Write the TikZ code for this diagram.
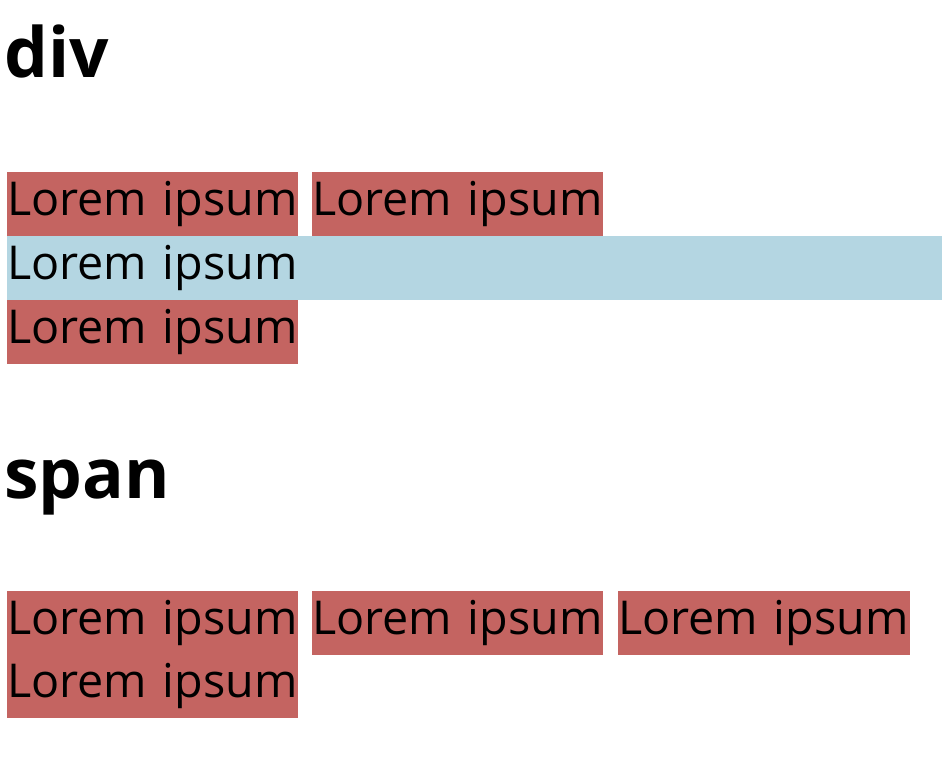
\documentclass[tikz,border=0pt]{standalone}
\usepackage{fontspec}
\setmainfont{Open Sans}
\definecolor{boxred}{RGB}{196,100,97}
\definecolor{boxblue}{RGB}{180,214,226}
\begin{document}
\begin{tikzpicture}[x=0.75pt,y=-0.75pt,
  cell/.style={inner xsep=0pt, inner ysep=0pt, anchor=north west, minimum height=48pt,
    text height=25pt, text depth=8.5pt, align=left, font=\fontsize{35pt}{40pt}\selectfont},
  redcell/.style={cell, fill=boxred, text width=218.25pt},
  bluecell/.style={cell, fill=boxblue, text width=701.25pt},
  heading/.style={inner sep=0pt, anchor=base west, font=\fontsize{52pt}{58pt}\selectfont\bfseries}]
\useasboundingbox (0,0) rectangle (949,770);
\fill[white] (0,0) rectangle (949,770);
\node[heading] (h1) at (4,78) {div};
\node[redcell] (d1) at (7,172) {Lorem ipsum};
\node[redcell] (d2) at (312,172) {Lorem ipsum};
\node[bluecell] (d3) at (7,236) {Lorem ipsum};
\node[redcell] (d4) at (7,300) {Lorem ipsum};
\node[heading] (h2) at (4,498) {span};
\node[redcell] (s1) at (7,591) {Lorem ipsum};
\node[redcell] (s2) at (312,591) {Lorem ipsum};
\node[redcell, text width=219pt] (s3) at (618,591) {Lorem ipsum};
\node[redcell] (s4) at (7,654) {Lorem ipsum};
\end{tikzpicture}
\end{document}
